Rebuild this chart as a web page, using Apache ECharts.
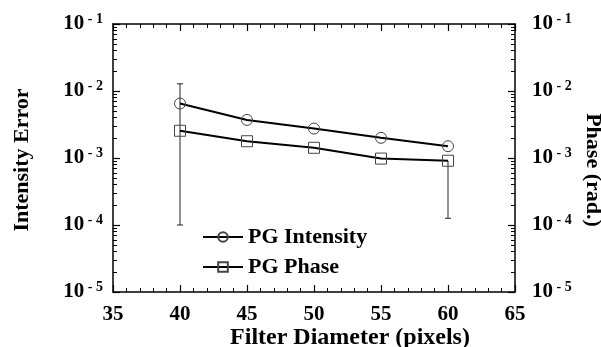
<!DOCTYPE html>
<html>
<head>
<meta charset="utf-8">
<script src="https://cdn.jsdelivr.net/npm/echarts@6/dist/echarts.min.js"></script>
<style>html,body{margin:0;padding:0;background:#fff}#c{width:601px;height:347px}</style>
</head>
<body>
<div id="c"></div>
<script>
const filterDiameter = [40, 45, 50, 55, 60];
const pgIntensity = [0.0065, 0.0037, 0.00275, 0.0020, 0.0015];
const pgPhase = [0.00255, 0.00178, 0.00142, 0.00098, 0.00091];
const errX = [40, 60];
const errLow = [1.0e-4, 1.26e-4];
const errHigh = [0.0128, 0.00091];
const errCapTop = [true, false];
const xTicks = [35, 40, 45, 50, 55, 60, 65];
const yDecades = [1e-5, 1e-4, 1e-3, 1e-2, 1e-1];

const FONT = '"Liberation Serif", "Times New Roman", serif';
const minorVals = [];
for (let e = -5; e < -1; e++) {
  for (let m = 2; m <= 9; m++) minorVals.push(+(m * Math.pow(10, e)).toPrecision(3));
}
function expLabel(v) {
  const e = Math.round(Math.log10(v));
  return '{a|10}{b| - ' + (-e) + '}';
}
const rich = {
  a: {fontFamily: FONT, fontWeight: 'bold', fontSize: 21, lineHeight: 24, color: '#000'},
  b: {fontFamily: FONT, fontWeight: 'bold', fontSize: 14, lineHeight: 14, verticalAlign: 'top', color: '#000'}
};
const axisLine = {show: true, onZero: false, lineStyle: {color: '#000', width: 1.5}};

function xAxisDef(pos, labels) {
  return {
    type: 'value', position: pos, min: 35, max: 65, interval: 5,
    axisLine: axisLine,
    axisTick: {show: true, inside: true, length: 7, lineStyle: {color: '#000', width: 1.2}},
    minorTick: {show: true, splitNumber: 5, length: 4, lineStyle: {color: '#000', width: 1}},
    splitLine: {show: false},
    axisLabel: {show: labels, margin: 12, fontFamily: FONT, fontWeight: 'bold', fontSize: 21, color: '#000',
      customValues: xTicks}
  };
}
function yAxisDef(pos, labels, margin) {
  return {
    type: 'log', logBase: 10, position: pos, min: 1e-5, max: 1e-1,
    axisLine: axisLine,
    axisTick: {show: true, inside: true, length: 7, lineStyle: {color: '#000', width: 1.2}, customValues: yDecades},
    splitLine: {show: false},
    axisLabel: {show: labels, margin: margin, formatter: expLabel, rich: rich, customValues: yDecades}
  };
}
function yMinorDef(pos) {
  return {
    type: 'log', logBase: 10, position: pos, min: 1e-5, max: 1e-1,
    axisLine: {show: false},
    axisTick: {show: true, inside: true, length: 4, lineStyle: {color: '#000', width: 1}, customValues: minorVals},
    splitLine: {show: false},
    axisLabel: {show: false}
  };
}

const chart = echarts.init(document.getElementById('c'), null, {renderer: 'canvas'});
chart.setOption({
  animation: false,
  backgroundColor: '#fff',
  grid: {left: 113, right: 86, top: 24, bottom: 55},
  xAxis: [xAxisDef('bottom', true), xAxisDef('top', false)],
  yAxis: [
    Object.assign(yAxisDef('left', true, 10), {
      name: 'Intensity Error', nameLocation: 'middle', nameGap: 80, nameRotate: 90,
      nameTextStyle: {fontFamily: FONT, fontWeight: 'bold', fontSize: 22, color: '#000', padding: [0, 4, 0, 0]}
    }),
    yAxisDef('right', true, 17),
    yMinorDef('left'),
    yMinorDef('right')
  ],
  legend: {
    orient: 'vertical', left: 197, top: 221, itemWidth: 40, itemHeight: 12, itemGap: 8,
    textStyle: {fontFamily: FONT, fontWeight: 'bold', fontSize: 22, lineHeight: 22, color: '#000'},
    data: ['PG Intensity', 'PG Phase']
  },
  graphic: [
    {type: 'text', x: 350, y: 338, style: {text: 'Filter Diameter (pixels)', font: 'bold 24px ' + FONT,
      fill: '#000', textAlign: 'center', textVerticalAlign: 'middle'}},
    {type: 'text', x: 593, y: 170, rotation: -Math.PI / 2, style: {text: 'Phase (rad.)', font: 'bold 22px ' + FONT,
      fill: '#000', textAlign: 'center', textVerticalAlign: 'middle'}}
  ],
  series: [
    {
      type: 'custom', name: 'err', xAxisIndex: 0, yAxisIndex: 0, silent: true, z: 1,
      data: errX.map((x, i) => [x, errLow[i], errHigh[i], errCapTop[i] ? 1 : 0]),
      renderItem: function (params, api) {
        const lo = api.coord([api.value(0), api.value(1)]);
        const hi = api.coord([api.value(0), api.value(2)]);
        const w = 3;
        const style = {stroke: '#222', lineWidth: 1};
        const children = [
          {type: 'line', shape: {x1: lo[0], y1: lo[1], x2: hi[0], y2: hi[1]}, style: style},
          {type: 'line', shape: {x1: lo[0] - w, y1: lo[1], x2: lo[0] + w, y2: lo[1]}, style: style}
        ];
        if (api.value(3)) children.push({type: 'line', shape: {x1: hi[0] - w, y1: hi[1], x2: hi[0] + w, y2: hi[1]}, style: style});
        return {type: 'group', children: children};
      }
    },
    {
      type: 'line', name: 'PG Intensity', xAxisIndex: 0, yAxisIndex: 0, z: 3,
      data: filterDiameter.map((x, i) => [x, pgIntensity[i]]),
      symbol: 'circle', symbolSize: 11,
      lineStyle: {color: '#000', width: 2},
      itemStyle: {color: 'rgba(255,255,255,0)', borderColor: '#444', borderWidth: 1}
    },
    {
      type: 'line', name: 'PG Phase', xAxisIndex: 0, yAxisIndex: 1, z: 3,
      data: filterDiameter.map((x, i) => [x, pgPhase[i]]),
      symbol: 'rect', symbolSize: 11,
      lineStyle: {color: '#000', width: 2},
      itemStyle: {color: 'rgba(255,255,255,0)', borderColor: '#444', borderWidth: 1}
    }
  ]
});
</script>
</body>
</html>
